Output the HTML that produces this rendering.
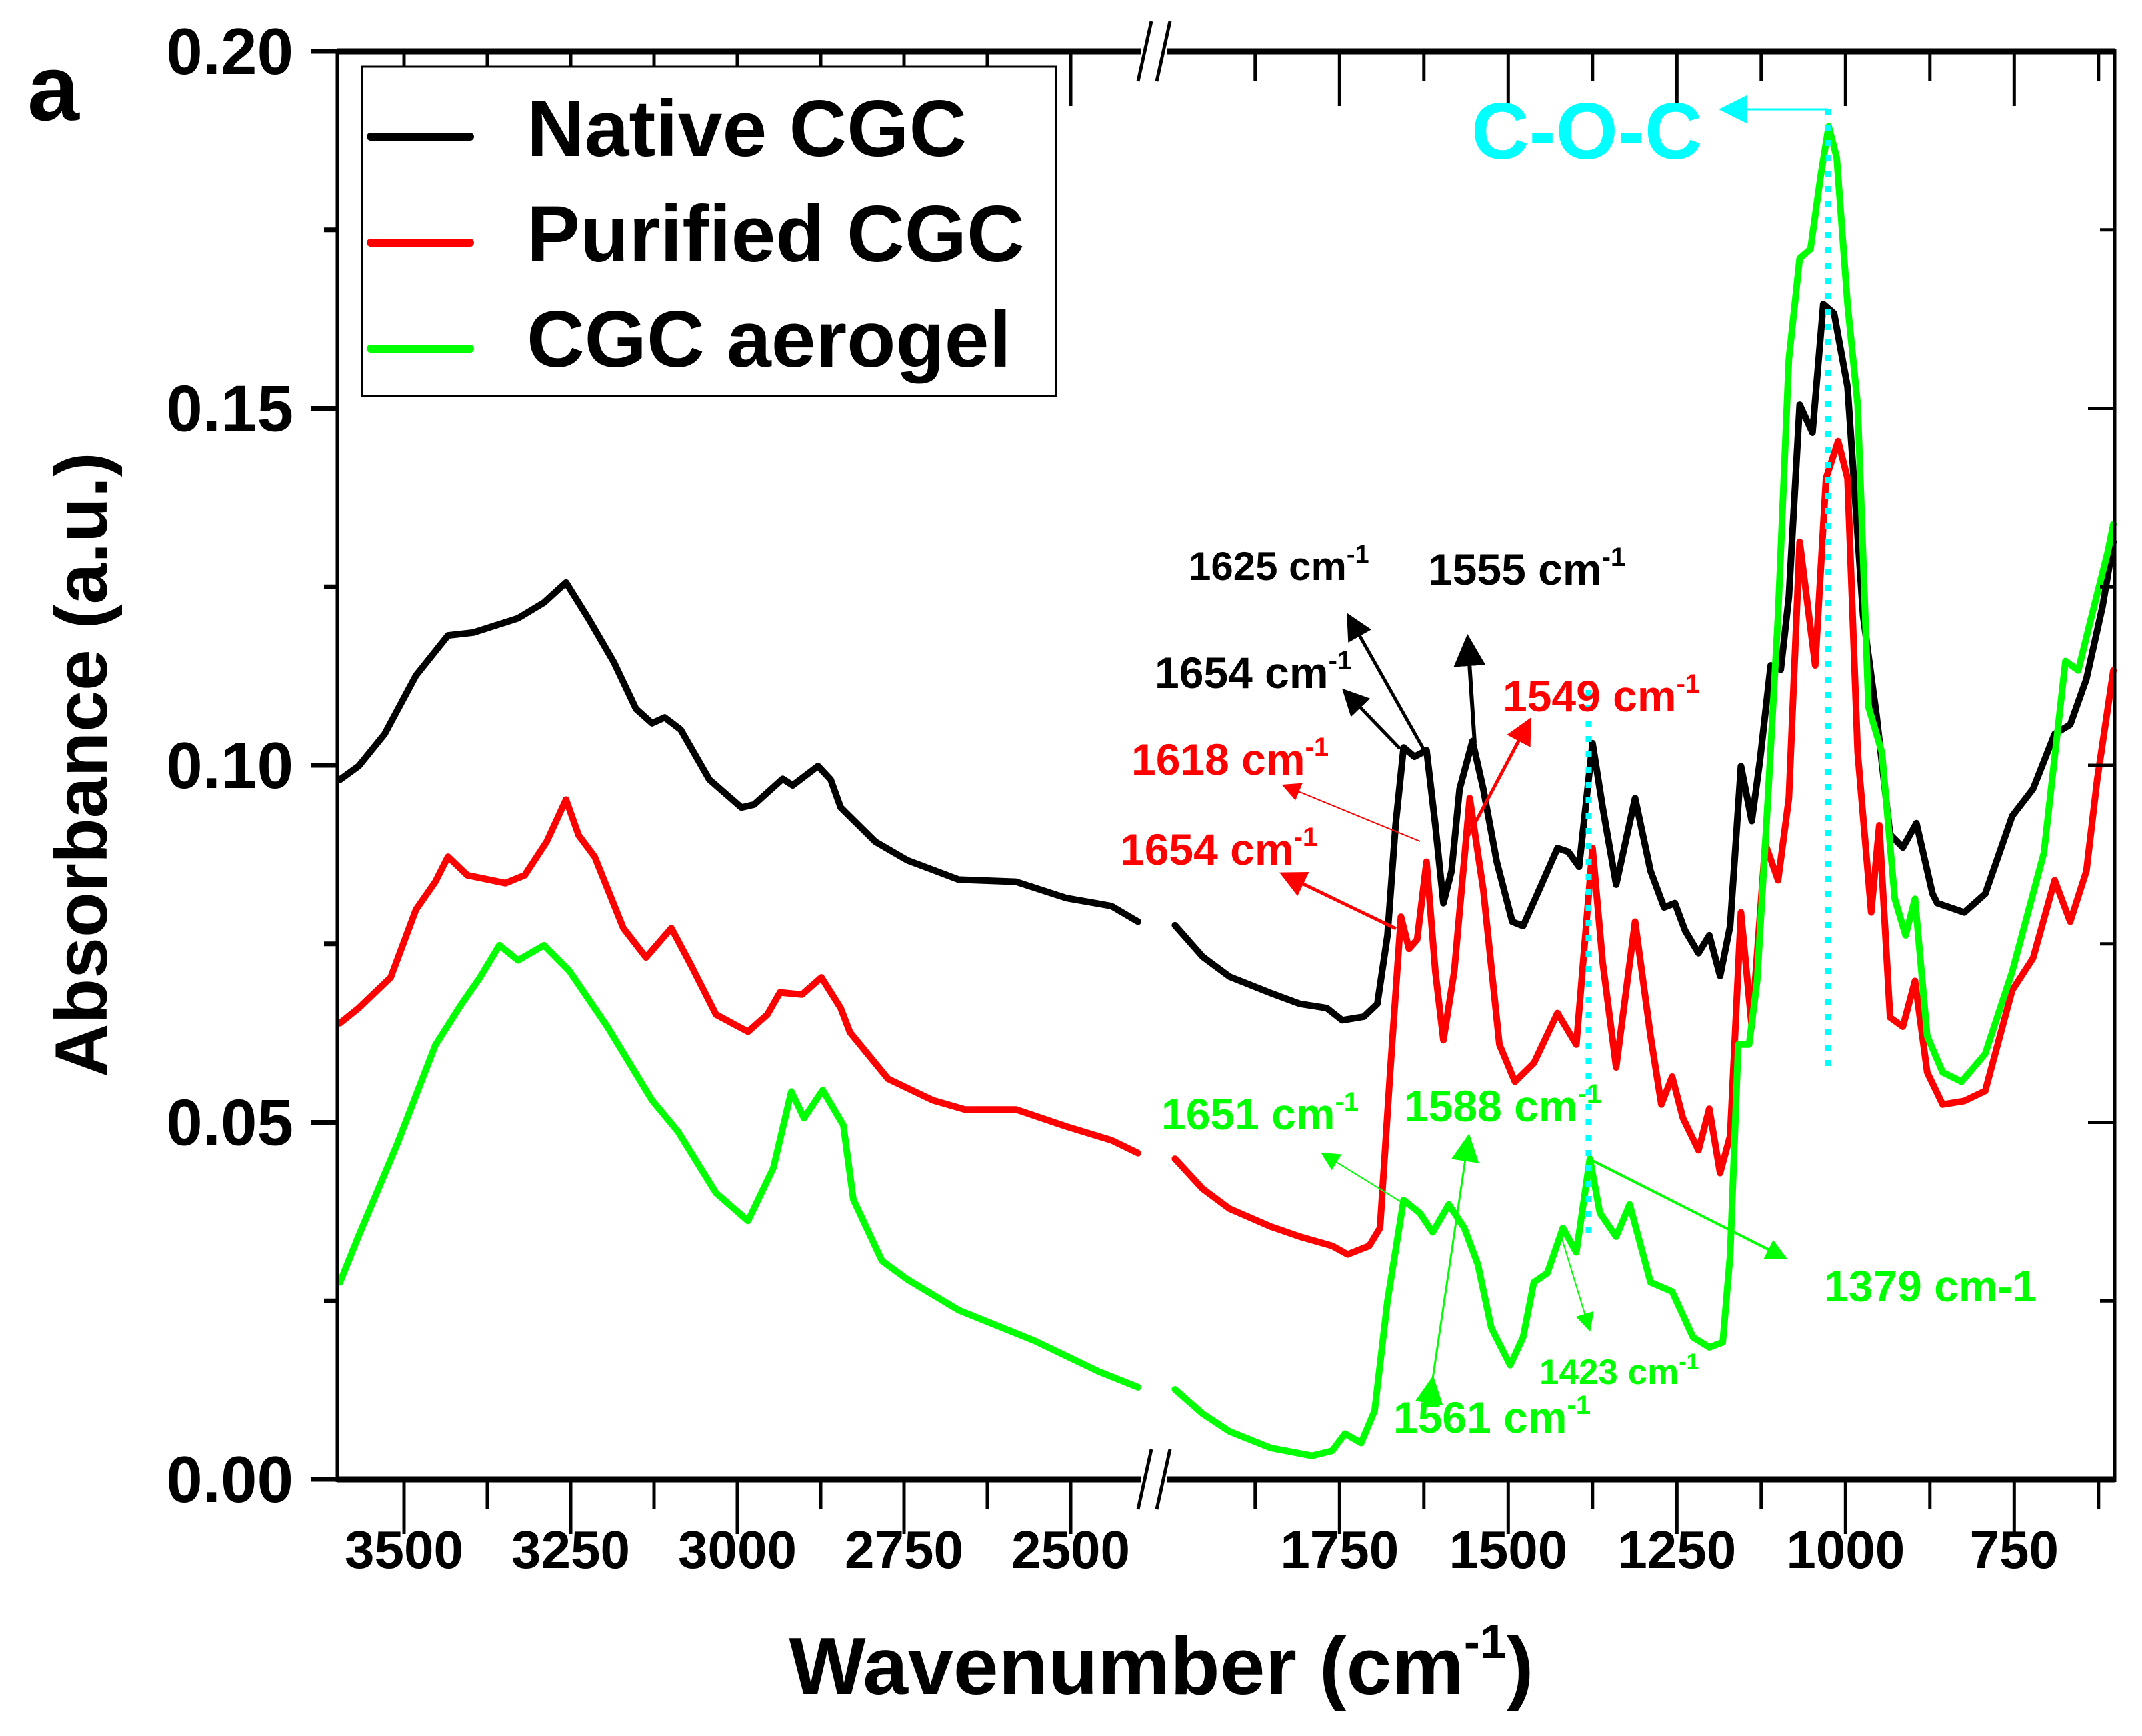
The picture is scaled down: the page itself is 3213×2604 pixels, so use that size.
<!DOCTYPE html>
<html><head><meta charset="utf-8"><style>
html,body{margin:0;padding:0;background:#fff}
svg{display:block}
text{font-family:"Liberation Sans",Arial,sans-serif;font-weight:bold}
</style></head><body>
<svg id="chart" width="3213" height="2604" viewBox="0 0 3213 2604" xmlns="http://www.w3.org/2000/svg">
<g id="plot"></g>
</svg>
<script>
const xTicksLeft=[3500,3250,3000,2750,2500];
const xTicksRight=[1750,1500,1250,1000,750];
const yTicks=[0,0.05,0.10,0.15,0.20];
const yTickLabels=["0.00","0.05","0.10","0.15","0.20"];
const seriesNames=["Native CGC","Purified CGC","CGC aerogel"];
const seriesColors=["#000000","#ff0000","#00ff00"];
const nativeLeft=[[3596,0.0980],[3568,0.0999],[3529,0.1044],[3482,0.1126],[3434,0.1182],[3396,0.1186],[3329,0.1206],[3290,0.1228],[3257,0.1256],[3223,0.1205],[3185,0.1144],[3152,0.1079],[3128,0.1059],[3109,0.1067],[3085,0.1050],[3042,0.0980],[2994,0.0941],[2975,0.0945],[2932,0.0981],[2917,0.0972],[2879,0.0999],[2860,0.0980],[2845,0.0941],[2793,0.0893],[2745,0.0867],[2668,0.0840],[2582,0.0837],[2506,0.0814],[2439,0.0803],[2399,0.0781]];
const nativeRight=[[1994,0.0776],[1953,0.0732],[1913,0.0704],[1852,0.0681],[1809,0.0666],[1769,0.0660],[1746,0.0643],[1714,0.0648],[1694,0.0666],[1679,0.0762],[1667,0.0916],[1655,0.1025],[1639,0.1012],[1621,0.1021],[1608,0.0916],[1596,0.0807],[1584,0.0852],[1572,0.0967],[1553,0.1034],[1537,0.0967],[1517,0.0865],[1494,0.0781],[1478,0.0775],[1454,0.0826],[1427,0.0884],[1411,0.0879],[1395,0.0858],[1375,0.1031],[1360,0.0941],[1340,0.0833],[1312,0.0954],[1289,0.0852],[1269,0.0801],[1253,0.0807],[1238,0.0769],[1218,0.0737],[1202,0.0762],[1186,0.0705],[1171,0.0775],[1155,0.0999],[1139,0.0922],[1127,0.1006],[1111,0.1140],[1096,0.1134],[1084,0.1236],[1068,0.1505],[1049,0.1466],[1033,0.1646],[1017,0.1633],[997,0.1530],[974,0.1210],[954,0.1069],[934,0.0903],[915,0.0885],[895,0.0919],[871,0.0820],[864,0.0807],[824,0.0794],[793,0.0820],[753,0.0929],[722,0.0967],[690,0.1044],[667,0.1057],[643,0.1121],[619,0.1223],[603,0.1313]];
const purifiedLeft=[[3596,0.0639],[3568,0.0660],[3520,0.0703],[3482,0.0798],[3453,0.0837],[3434,0.0872],[3405,0.0846],[3348,0.0835],[3319,0.0846],[3286,0.0893],[3257,0.0952],[3238,0.0902],[3214,0.0872],[3171,0.0772],[3137,0.0731],[3099,0.0772],[3070,0.0721],[3032,0.0651],[2984,0.0627],[2955,0.0651],[2936,0.0682],[2903,0.0679],[2874,0.0703],[2845,0.0660],[2831,0.0626],[2774,0.0561],[2707,0.0531],[2659,0.0518],[2582,0.0518],[2506,0.0494],[2439,0.0475],[2399,0.0457]];
const purifiedRight=[[1994,0.0449],[1953,0.0407],[1913,0.0379],[1852,0.0354],[1809,0.0340],[1761,0.0327],[1738,0.0315],[1706,0.0327],[1690,0.0352],[1675,0.0570],[1659,0.0788],[1647,0.0743],[1635,0.0756],[1621,0.0865],[1608,0.0711],[1596,0.0615],[1580,0.0711],[1557,0.0954],[1537,0.0826],[1513,0.0609],[1490,0.0557],[1462,0.0583],[1427,0.0653],[1399,0.0609],[1375,0.0884],[1360,0.0724],[1340,0.0577],[1312,0.0781],[1289,0.0621],[1273,0.0525],[1257,0.0564],[1241,0.0506],[1218,0.0461],[1202,0.0519],[1186,0.0429],[1171,0.0481],[1155,0.0794],[1139,0.0634],[1119,0.0890],[1100,0.0839],[1084,0.0954],[1068,0.1313],[1045,0.1140],[1029,0.1402],[1011,0.1454],[997,0.1402],[982,0.1018],[962,0.0794],[950,0.0916],[934,0.0647],[915,0.0634],[897,0.0698],[879,0.0570],[856,0.0525],[824,0.0530],[793,0.0544],[753,0.0685],[722,0.0730],[690,0.0839],[667,0.0781],[643,0.0852],[627,0.0980],[603,0.1133]];
const aerogelLeft=[[3596,0.0276],[3568,0.0341],[3510,0.0470],[3453,0.0608],[3415,0.0664],[3386,0.0703],[3357,0.0748],[3329,0.0727],[3290,0.0748],[3252,0.0712],[3195,0.0634],[3128,0.0531],[3089,0.0487],[3032,0.0401],[2984,0.0362],[2946,0.0436],[2919,0.0543],[2900,0.0506],[2872,0.0545],[2841,0.0496],[2826,0.0392],[2783,0.0306],[2745,0.0280],[2668,0.0237],[2554,0.0194],[2458,0.0151],[2399,0.0129]];
const aerogelRight=[[1994,0.0126],[1953,0.0092],[1913,0.0067],[1852,0.0044],[1791,0.0033],[1761,0.0040],[1742,0.0064],[1718,0.0051],[1698,0.0096],[1679,0.0250],[1655,0.0391],[1631,0.0373],[1612,0.0346],[1588,0.0385],[1565,0.0352],[1545,0.0301],[1525,0.0212],[1497,0.0160],[1478,0.0199],[1462,0.0276],[1442,0.0289],[1419,0.0352],[1399,0.0318],[1379,0.0449],[1364,0.0373],[1340,0.0340],[1320,0.0385],[1289,0.0276],[1257,0.0263],[1226,0.0199],[1202,0.0185],[1182,0.0192],[1171,0.0314],[1159,0.0609],[1143,0.0609],[1131,0.0698],[1115,0.0954],[1100,0.1210],[1084,0.1569],[1068,0.1710],[1052,0.1723],[1037,0.1825],[1025,0.1895],[1013,0.1851],[997,0.1646],[982,0.1505],[966,0.1082],[946,0.1018],[927,0.0813],[911,0.0762],[897,0.0813],[879,0.0621],[856,0.0570],[828,0.0557],[793,0.0596],[753,0.0711],[706,0.0877],[674,0.1146],[655,0.1133],[635,0.1210],[611,0.1300],[603,0.1338]];

const L=506,R=3172,T=77,B=2219,BRK=1731;
function xs(w){ if(w>=2200) return L+(3600-w); return BRK+(2025-w)*1.012; }
function ys(a){ return B-(a/0.2)*(B-T); }
const NS="http://www.w3.org/2000/svg";
const g=document.getElementById('plot');
function mk(tag,attrs,parent){const e=document.createElementNS(NS,tag);for(const k in attrs)e.setAttribute(k,attrs[k]);(parent||g).appendChild(e);return e;}

const allSeries=[[nativeLeft,nativeRight],[purifiedLeft,purifiedRight],[aerogelLeft,aerogelRight]];
allSeries.forEach((segs,i)=>{
  segs.forEach((pts,j)=>{
    const p=mk('polyline',{points:pts.map(d=>xs(d[0]).toFixed(1)+','+ys(d[1]).toFixed(1)).join(' '),fill:'none',stroke:seriesColors[i],'stroke-width':10,'stroke-linejoin':'round','stroke-linecap':'round'});
    
    
  });
});

let e;
e=mk('line',{x1:L,y1:B,x2:R,y2:B,stroke:'#000','stroke-width':9});


e=mk('line',{x1:L,y1:T,x2:R,y2:T,stroke:'#000','stroke-width':9});


e=mk('line',{x1:L,y1:T-4,x2:L,y2:B+4,stroke:'#000','stroke-width':5});


e=mk('line',{x1:R,y1:T-4,x2:R,y2:B+4,stroke:'#000','stroke-width':5});



function xtick(w,major,label){
  const x=xs(w);
  const len=major?82:45;
  const t=mk('line',{x1:x,y1:B,x2:x,y2:B+len,stroke:'#000','stroke-width':5});
  
  
  const t2=mk('line',{x1:x,y1:T,x2:x,y2:T+len,stroke:'#000','stroke-width':5});
  
  
  if(label){
    const tx=mk('text',{x:x,y:2352,'font-size':80,'text-anchor':'middle'});
    tx.textContent=label;
    
    
  }
}
xTicksLeft.forEach(w=>{xtick(w,true,String(w));});
[3375,3125,2875,2625].forEach(w=>xtick(w,false,null));
xTicksRight.forEach(w=>{xtick(w,true,String(w));});
[1875,1625,1375,1125,875,625].forEach(w=>xtick(w,false,null));

yTicks.forEach((v,i)=>{
  const y=ys(v);
  const t=mk('line',{x1:L-40,y1:y,x2:L,y2:y,stroke:'#000','stroke-width':7});
  
  
  const t2=mk('line',{x1:R-40,y1:y,x2:R,y2:y,stroke:'#000','stroke-width':5});
  
  
  const tx=mk('text',{x:440,y:y+34,'font-size':98,'text-anchor':'end'});
  tx.textContent=yTickLabels[i];
  
  
});
[0.025,0.075,0.125,0.175].forEach(v=>{
  const y=ys(v);
  const t=mk('line',{x1:L-20,y1:y,x2:L,y2:y,stroke:'#000','stroke-width':7});
  
  
  const t2=mk('line',{x1:R-22,y1:y,x2:R,y2:y,stroke:'#000','stroke-width':5});
  
  
});

[[T],[B]].forEach(([y])=>{
  const r=mk('rect',{x:BRK-20,y:y-14,width:40,height:28,fill:'#fff'});
  
  
  [-14,14].forEach(dx=>{
    const l=mk('line',{x1:BRK+dx-10,y1:y+45,x2:BRK+dx+10,y2:y-45,stroke:'#000','stroke-width':5});
    
    
  });
});
</script>
<svg width="3213" height="2604" style="position:absolute;left:0;top:0" xmlns="http://www.w3.org/2000/svg">
<defs>
<marker id="ak" markerWidth="8" markerHeight="8" refX="6" refY="4" orient="auto" markerUnits="strokeWidth"><path d="M0,0 L8,4 L0,8 z" fill="#000"/></marker>
<marker id="ar" markerWidth="8" markerHeight="8" refX="6" refY="4" orient="auto" markerUnits="strokeWidth"><path d="M0,0 L8,4 L0,8 z" fill="#f00"/></marker>
<marker id="ar2" markerWidth="14" markerHeight="14" refX="10" refY="7" orient="auto" markerUnits="strokeWidth"><path d="M0,0 L14,7 L0,14 z" fill="#f00"/></marker>
<marker id="ag" markerWidth="8" markerHeight="8" refX="6" refY="4" orient="auto" markerUnits="strokeWidth"><path d="M0,0 L8,4 L0,8 z" fill="#0f0"/></marker>
<marker id="ag2" markerWidth="14" markerHeight="14" refX="10" refY="7" orient="auto" markerUnits="strokeWidth"><path d="M0,0 L14,7 L0,14 z" fill="#0f0"/></marker>
<marker id="ac" markerWidth="14" markerHeight="14" refX="10" refY="7" orient="auto" markerUnits="strokeWidth"><path d="M0,0 L14,7 L0,14 z" fill="#0ff"/></marker>
</defs>
<text x="41" y="180" font-size="140">a</text>
<g>
<rect x="543" y="100" width="1041" height="494" fill="#fff" stroke="#000" stroke-width="3"/>
<line x1="556" y1="205" x2="705" y2="205" stroke="#000" stroke-width="12" stroke-linecap="round"/>
<text x="790" y="234" font-size="120">Native CGC</text>
<line x1="556" y1="364" x2="705" y2="364" stroke="#f00" stroke-width="12" stroke-linecap="round"/>
<text x="790" y="392" font-size="120">Purified CGC</text>
<line x1="556" y1="523" x2="705" y2="523" stroke="#0f0" stroke-width="12" stroke-linecap="round"/>
<text x="790" y="550" font-size="120">CGC aerogel</text>
</g>
<text transform="translate(160,1147) rotate(-90)" font-size="111" text-anchor="middle">Absorbance (a.u.)</text>
<text x="1742" y="2541" font-size="122" text-anchor="middle">Wavenumber (cm<tspan font-size="72" dy="-54">-1</tspan><tspan dy="54">)</tspan></text>
<line x1="2742" y1="164" x2="2742" y2="1600" stroke="#0ff" stroke-width="9" stroke-dasharray="9,14"/>
<line x1="2742" y1="164" x2="2590" y2="164" stroke="#0ff" stroke-width="3" marker-end="url(#ac)"/>
<text x="2207" y="238" font-size="120" fill="#0ff">C-O-C</text>
<line x1="2383" y1="1035" x2="2383" y2="1855" stroke="#0ff" stroke-width="9" stroke-dasharray="9,14"/>
<g font-size="66">
<text x="1783" y="870" font-size="60">1625 cm<tspan font-size="38" dy="-26">-1</tspan></text>
<text x="2142" y="877">1555 cm<tspan font-size="40" dy="-28">-1</tspan></text>
<text x="1732" y="1032">1654 cm<tspan font-size="40" dy="-28">-1</tspan></text>
<text x="2254" y="1067" fill="#f00">1549 cm<tspan font-size="40" dy="-28">-1</tspan></text>
<text x="1697" y="1162" fill="#f00">1618 cm<tspan font-size="40" dy="-28">-1</tspan></text>
<text x="1680" y="1297" fill="#f00">1654 cm<tspan font-size="40" dy="-28">-1</tspan></text>
<text x="1742" y="1694" fill="#0f0">1651 cm<tspan font-size="40" dy="-28">-1</tspan></text>
<text x="2106" y="1682" fill="#0f0">1588 cm<tspan font-size="40" dy="-28">-1</tspan></text>
<text x="2736" y="1952" fill="#0f0">1379 cm-1</text>
<text x="2309" y="2076" fill="#0f0" font-size="53">1423 cm<tspan font-size="34" dy="-22">-1</tspan></text>
<text x="2090" y="2149" fill="#0f0">1561 cm<tspan font-size="40" dy="-28">-1</tspan></text>
</g>
<line x1="2100" y1="1123" x2="2020" y2="1040" stroke="#000" stroke-width="5" marker-end="url(#ak)"/>
<line x1="2135" y1="1123" x2="2025" y2="928" stroke="#000" stroke-width="5" marker-end="url(#ak)"/>
<line x1="2212" y1="1115" x2="2202" y2="963" stroke="#000" stroke-width="6" marker-end="url(#ak)"/>
<line x1="2198" y1="1262" x2="2292" y2="1085" stroke="#f00" stroke-width="5" marker-end="url(#ar)"/>
<line x1="2130" y1="1262" x2="1930" y2="1180" stroke="#f00" stroke-width="2" marker-end="url(#ar2)"/>
<line x1="2094" y1="1393" x2="1928" y2="1313" stroke="#f00" stroke-width="5" marker-end="url(#ar)"/>
<line x1="2105" y1="1805" x2="1988" y2="1733" stroke="#0f0" stroke-width="2" marker-end="url(#ag2)"/>
<line x1="2148" y1="2075" x2="2202" y2="1712" stroke="#0f0" stroke-width="3" marker-end="url(#ag2)" marker-start="url(#ag2)"/>
<line x1="2342" y1="1855" x2="2383" y2="1990" stroke="#0f0" stroke-width="2" marker-end="url(#ag2)"/>
<line x1="2383" y1="1738" x2="2674" y2="1885" stroke="#0f0" stroke-width="4" marker-end="url(#ag)"/>
</svg>
</body></html>
